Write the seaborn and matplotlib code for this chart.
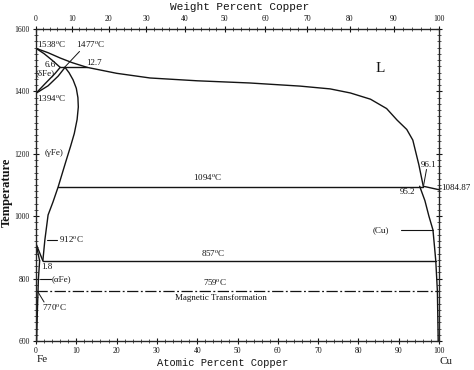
import matplotlib
matplotlib.use('Agg')
import matplotlib.pyplot as plt
import seaborn as sns
import numpy as np
import pandas as pd

# phase boundaries, x = atomic % Cu, y = temperature (C)
liquidus_x = [0, 3, 6, 9, 12.7, 20, 28.3, 40, 53, 65.5, 73, 78, 83, 87, 89.6, 92, 93.5, 95, 96.1]
liquidus_y = [1538, 1524, 1507, 1492, 1477, 1458, 1443, 1434, 1427, 1417, 1408, 1395, 1375, 1345, 1308, 1278, 1244, 1165, 1096]
delta_sol_x = [0, 2, 4, 6]
delta_sol_y = [1538, 1521, 1500, 1477]
delta_solv_x = [0, 2.2, 4.7, 6]
delta_solv_y = [1394, 1424, 1457, 1477]
gamma_hi_x = [0, 3, 5.5, 7.2]
gamma_hi_y = [1394, 1418, 1449, 1477]
gamma_solv_x = [7.2, 8.2, 9.2, 10.0, 10.4, 10.5, 10.2, 9.5, 8.6, 7.4, 5.5, 4.2, 3.0, 2.2, 1.7]
gamma_solv_y = [1477, 1460, 1437, 1410, 1380, 1350, 1310, 1265, 1225, 1175, 1094, 1045, 1004, 924, 857]
gamma_lo_x = [0, 1.7]
gamma_lo_y = [912, 857]
alpha_hi_x = [0, 0.9]
alpha_hi_y = [912, 857]
alpha_solv_x = [0.9, 0.6, 0.35, 0.15]
alpha_solv_y = [857, 800, 700, 600]
cu_liq_x = [96.1, 100]
cu_liq_y = [1096, 1084.87]
cu_solv_x = [95.2, 96.5, 97.5, 98.5, 98.9, 99.2, 99.6, 99.8]
cu_solv_y = [1096, 1050, 1000, 956, 900, 857, 760, 600]
peri_high = [6, 12.7, 1477]
peri_low = [5.5, 96.1, 1094]
eutectoid = [1.7, 99.2, 857]
magnetic = [0, 100, 759]

x_ticks = [0, 10, 20, 30, 40, 50, 60, 70, 80, 90, 100]
y_ticks = [600, 800, 1000, 1200, 1400, 1600]
wt_ticks = [0, 10, 20, 30, 40, 50, 60, 70, 80, 90, 100]


def wt_to_at(w):
    w = np.asarray(w, dtype=float)
    a = w / 63.546
    b = (100 - w) / 55.845
    return 100 * a / (a + b)


curves = {
    'liq': (liquidus_x, liquidus_y),
    'dsol': (delta_sol_x, delta_sol_y),
    'dsolv': (delta_solv_x, delta_solv_y),
    'ghi': (gamma_hi_x, gamma_hi_y),
    'gsolv': (gamma_solv_x, gamma_solv_y),
    'glo': (gamma_lo_x, gamma_lo_y),
    'ahi': (alpha_hi_x, alpha_hi_y),
    'asolv': (alpha_solv_x, alpha_solv_y),
    'culiq': (cu_liq_x, cu_liq_y),
    'cusolv': (cu_solv_x, cu_solv_y),
    'p1': ([peri_high[0], peri_high[1]], [peri_high[2]] * 2),
    'p2': ([peri_low[0], peri_low[1]], [peri_low[2]] * 2),
    'eu': ([eutectoid[0], eutectoid[1]], [eutectoid[2]] * 2),
}
rows = []
for name, (xs, ys) in curves.items():
    for i, (x, y) in enumerate(zip(xs, ys)):
        rows.append({'curve': name, 'order': i, 'at': x, 'T': y})
df = pd.DataFrame(rows)

sns.set_style('ticks')
plt.rcParams['font.family'] = ['Liberation Serif', 'DejaVu Serif']
plt.rcParams['mathtext.fontset'] = 'stix'

fig = plt.figure(figsize=(4.74, 3.70), dpi=100)
ax = fig.add_axes([36 / 474, 29 / 370, 403 / 474, 312 / 370])
ink = '#141414'

sns.lineplot(data=df, x='at', y='T', units='curve', estimator=None, sort=False,
             color=ink, lw=1.0, ax=ax, legend=False)
sns.lineplot(x=[magnetic[0], magnetic[1]], y=[magnetic[2]] * 2, color=ink, lw=0.9,
             linestyle=(0, (9, 2, 1.5, 2)), ax=ax)

ax.set_xlim(0, 100)
ax.set_ylim(600, 1600)
ax.set_xlabel('')
ax.set_ylabel('')
ax.set_xticks(x_ticks)
ax.set_xticklabels([str(v) for v in x_ticks])
ax.set_yticks(y_ticks)
ax.set_yticklabels([str(v) for v in y_ticks])
ax.set_xticks(np.arange(0, 101, 2), minor=True)
ax.set_yticks(np.arange(600, 1601, 20), minor=True)
ax.tick_params(axis='both', which='major', direction='inout', length=5, width=0.8,
               labelsize=5.5, colors=ink, pad=2)
ax.tick_params(axis='both', which='minor', direction='inout', length=2.5, width=0.5, colors=ink)
ax.tick_params(axis='y', which='both', right=True)
for s in ax.spines.values():
    s.set_linewidth(0.9)
    s.set_color(ink)

ax2 = ax.twiny()
ax2.set_xlim(0, 100)
ax2.set_xticks(wt_to_at(wt_ticks))
ax2.set_xticklabels([str(v) for v in wt_ticks])
ax2.set_xticks(wt_to_at(np.arange(0, 101, 2)), minor=True)
ax2.tick_params(axis='x', which='major', direction='inout', length=5, width=0.8,
                labelsize=5.5, colors=ink, pad=2)
ax2.tick_params(axis='x', which='minor', direction='inout', length=2.5, width=0.5, colors=ink)

mono = ['Liberation Mono', 'DejaVu Sans Mono']
fig.text(240 / 474, 1 - 7 / 370, 'Weight Percent Copper', family=mono, fontsize=8,
         ha='center', va='center', color=ink)
fig.text(223 / 474, 1 - 363 / 370, 'Atomic Percent Copper', family=mono, fontsize=7.5,
         ha='center', va='center', color=ink)
fig.text(7 / 474, 1 - 192 / 370, 'Temperature', fontsize=9, fontweight='bold',
         rotation=90, ha='center', va='center', color=ink)
fig.text(42 / 474, 1 - 360 / 370, 'Fe', fontsize=8, ha='center', va='center', color=ink)
fig.text(446 / 474, 1 - 361 / 370, 'Cu', fontsize=8, ha='center', va='center', color=ink)

fs = 6.5
notes = [
    (0.3, 1548, '1538$^{\\rm o}$C', 'left'),
    (0.0, 1458, '(\u03b4Fe)', 'left'),
    (3.6, 1486, '6.6', 'center'),
    (13.5, 1549, '1477$^{\\rm o}$C', 'center'),
    (14.3, 1491, '12.7', 'center'),
    (0.3, 1375, '1394$^{\\rm o}$C', 'left'),
    (2.2, 1203, '(\u03b3Fe)', 'left'),
    (42.5, 1122, '1094$^{\\rm o}$C', 'center'),
    (97.4, 1165, '96.1', 'center'),
    (92.2, 1078, '95.2', 'center'),
    (100.6, 1089, '1084.87', 'left'),
    (85.5, 956, '(Cu)', 'center'),
    (5.6, 924, '912$^{\\rm o}$C', 'left'),
    (2.6, 838, '1.8', 'center'),
    (4.0, 798, '(\u03b1Fe)', 'left'),
    (1.6, 706, '770$^{\\rm o}$C', 'left'),
    (44.0, 879, '857$^{\\rm o}$C', 'center'),
    (44.4, 786, '759$^{\\rm o}$C', 'center'),
    (34.5, 738, 'Magnetic Transformation', 'left'),
]
for x, y, t, ha in notes:
    ax.text(x, y, t, fontsize=fs, ha=ha, va='center', color=ink, clip_on=False)
ax.text(85.4, 1475, 'L', fontsize=11, ha='center', va='center', color=ink)

# pointer lines
ax.plot([10.8, 7.0], [1528, 1476], color=ink, lw=0.7)
ax.plot([96.9, 96.2], [1150, 1100], color=ink, lw=0.7)
ax.plot([100.0, 100.6], [1087, 1088], color=ink, lw=0.7, clip_on=False)
ax.plot([90.6, 98.5], [956, 956], color=ink, lw=0.8)
ax.plot([2.7, 5.3], [924, 924], color=ink, lw=0.8)
ax.plot([1.0, 3.6], [798, 798], color=ink, lw=0.8)
ax.plot([0.5, 2.0], [757, 725], color=ink, lw=0.7)

fig.savefig('out.png', dpi=100)
